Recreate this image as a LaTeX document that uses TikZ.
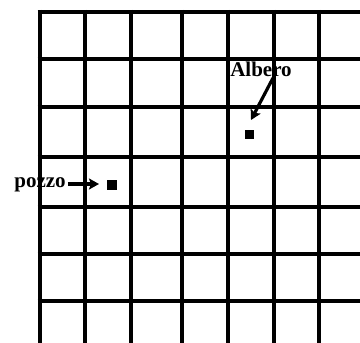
\documentclass[tikz,border=0pt]{standalone}
\usepackage{fontspec}
\setmainfont{Liberation Serif}
\usetikzlibrary{arrows.meta}
\tikzset{
  gridline/.style={line width=4.5pt, black},
  lbl/.style={font=\fontsize{21}{21}\selectfont\bfseries, inner sep=0pt, text=black},
  dot/.style={fill=black, minimum size=9.5pt, inner sep=0pt},
  arr/.style={line width=3.2pt, -{Stealth[length=10pt,width=11pt,inset=2pt]}}
}
\begin{document}
\begin{tikzpicture}[x=1pt,y=-1pt]
\useasboundingbox (0,0) rectangle (360,343);
\fill[white] (0,0) rectangle (360,343);
% horizontal lines
\foreach \y in {12,59,107,157,207,254,301}
  \draw[gridline] (37.75,\y) -- (360,\y);
% vertical lines
\foreach \x in {40,85,131,182,228,274,319}
  \draw[gridline] (\x,9.75) -- (\x,343);
% objects
\node[dot] (tree) at (249.5,134.5) {};
\node[dot] (well) at (112,185) {};
\node[lbl] (albero) at (261,69) {Albero};
\node[lbl] (pozzo) at (40,185) {pozzo};
\coordinate (a1) at (273,78);
\coordinate (a2) at (251,120);
\coordinate (p1) at (68,184);
\coordinate (p2) at (99,184);
\draw[arr] (a1) -- (a2);
\draw[arr] (p1) -- (p2);
\end{tikzpicture}
\end{document}
